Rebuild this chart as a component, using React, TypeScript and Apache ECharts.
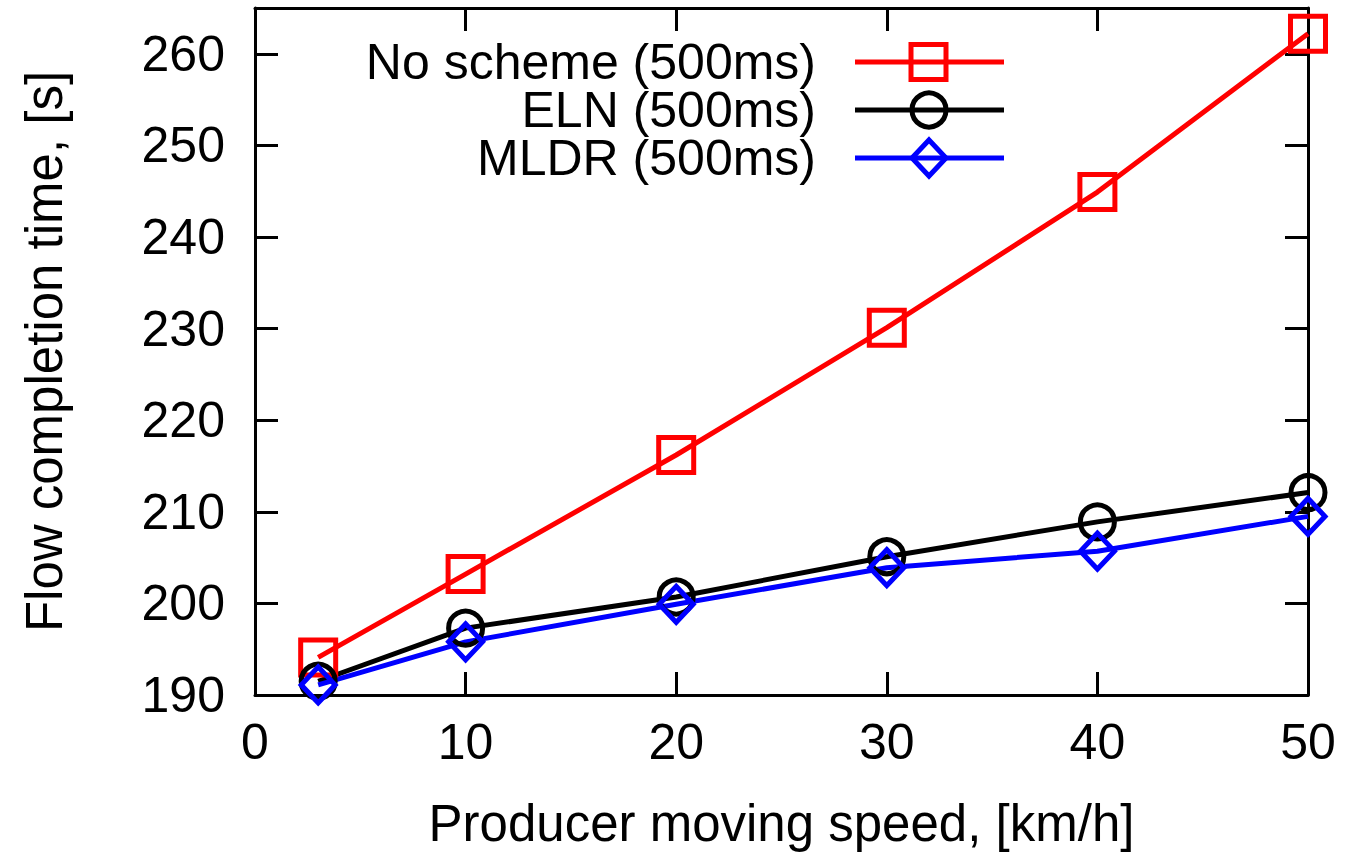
import React, { useEffect, useRef } from "react";
import * as echarts from "echarts";

const speeds = [3, 10, 20, 30, 40, 50];
const noScheme = [194.1, 203.2, 216.2, 230.1, 244.9, 262.2];
const eln = [191.5, 197.3, 200.7, 205.1, 208.9, 212.1];
const mldr = [191.1, 195.8, 199.9, 203.9, 205.7, 209.5];
const seriesNames = ["No scheme (500ms)", "ELN (500ms)", "MLDR (500ms)"];
const seriesColors = ["#ff0000", "#000000", "#0000ff"];
const xTitle = "Producer moving speed, [km/h]";
const yTitle = "Flow completion time, [s]";

const FONT = "Liberation Sans, Arial, Helvetica, sans-serif";
const FS = 50;

export default function App() {
  const ref = useRef<HTMLDivElement>(null);
  useEffect(() => {
    if (!ref.current) return;
    const chart = echarts.init(ref.current, null, { renderer: "svg" });
    const gridLeft = 255, gridTop = 8, gridRight = 1308, gridBottom = 695;
    const tick = () => ({ show: true, inside: true, length: 23, lineStyle: { color: "#000", width: 3 } });
    const axisLine = () => ({ show: true, onZero: false, lineStyle: { color: "#000", width: 3 } });
    const mk = (name: string, vals: number[], color: string, symbol: string, size: any) => ({
      type: "line",
      name,
      data: speeds.map((s, i) => [s, vals[i]]),
      symbol,
      symbolSize: size,
      showAllSymbol: true,
      lineStyle: { color, width: 5 },
      itemStyle: { color: "transparent", borderColor: color, borderWidth: 5 },
      z: 3,
    });
    const legendRows = [62, 110, 158];
    const legendGraphics: any[] = [
      {
        type: "text",
        x: 816,
        y: 110,
        style: {
          text: seriesNames.join("\n"),
          fill: "#000",
          font: `${FS}px ${FONT}`,
          lineHeight: 48,
          align: "right",
          textAlign: "right",
          verticalAlign: "middle",
          textVerticalAlign: "middle",
        },
      },
    ];
    legendRows.forEach((y, i) => {
      const c = seriesColors[i];
      legendGraphics.push({
        type: "line",
        shape: { x1: 855, y1: y, x2: 1004, y2: y },
        style: { stroke: c, lineWidth: 5 },
      });
      const ms = { fill: "none", stroke: c, lineWidth: 5 };
      if (i === 0) legendGraphics.push({ type: "rect", shape: { x: 911, y: y - 17.5, width: 35, height: 35 }, style: ms });
      if (i === 1) legendGraphics.push({ type: "circle", shape: { cx: 929, cy: y, r: 17 }, style: ms });
      if (i === 2)
        legendGraphics.push({
          type: "polygon",
          shape: { points: [[929, y - 18], [946, y], [929, y + 18], [912, y]] },
          style: ms,
        });
    });
    chart.setOption({
      animation: false,
      backgroundColor: "#fff",
      textStyle: { fontFamily: FONT },
      grid: { left: gridLeft, top: gridTop, right: 1351 - gridRight, bottom: 856 - gridBottom, containLabel: false },
      xAxis: [
        {
          type: "value",
          position: "bottom",
          min: 0,
          max: 50,
          interval: 10,
          axisLine: axisLine(),
          axisTick: tick(),
          splitLine: { show: false },
          axisLabel: { color: "#000", fontSize: FS, fontFamily: FONT, margin: 22 },
          name: xTitle,
          nameLocation: "middle",
          nameGap: 103,
          nameTextStyle: { color: "#000", fontSize: 51, fontFamily: FONT },
        },
        {
          type: "value",
          position: "top",
          min: 0,
          max: 50,
          interval: 10,
          axisLine: axisLine(),
          axisTick: tick(),
          splitLine: { show: false },
          axisLabel: { show: false },
        },
      ],
      yAxis: [
        {
          type: "value",
          position: "left",
          min: 190,
          max: 265,
          interval: 10,
          axisLine: axisLine(),
          axisTick: tick(),
          splitLine: { show: false },
          axisLabel: {
            color: "#000",
            fontSize: FS,
            fontFamily: FONT,
            margin: 30,
            formatter: (v: number) => (v % 10 === 0 ? String(v) : ""),
          },
          name: yTitle,
          nameLocation: "middle",
          nameGap: 185,
          nameTextStyle: { color: "#000", fontSize: 51, fontFamily: FONT },
        },
        {
          type: "value",
          position: "right",
          min: 190,
          max: 265,
          interval: 10,
          axisLine: axisLine(),
          axisTick: tick(),
          splitLine: { show: false },
          axisLabel: { show: false },
        },
      ],
      series: [
        mk(seriesNames[0], noScheme, seriesColors[0], "rect", 35),
        mk(seriesNames[1], eln, seriesColors[1], "circle", 34),
        mk(seriesNames[2], mldr, seriesColors[2], "diamond", [34, 36]),
      ],
      graphic: legendGraphics,
    });
    return () => chart.dispose();
  }, []);
  return <div ref={ref} style={{ position: "fixed", left: 0, top: 0, width: 1351, height: 856 }} />;
}
